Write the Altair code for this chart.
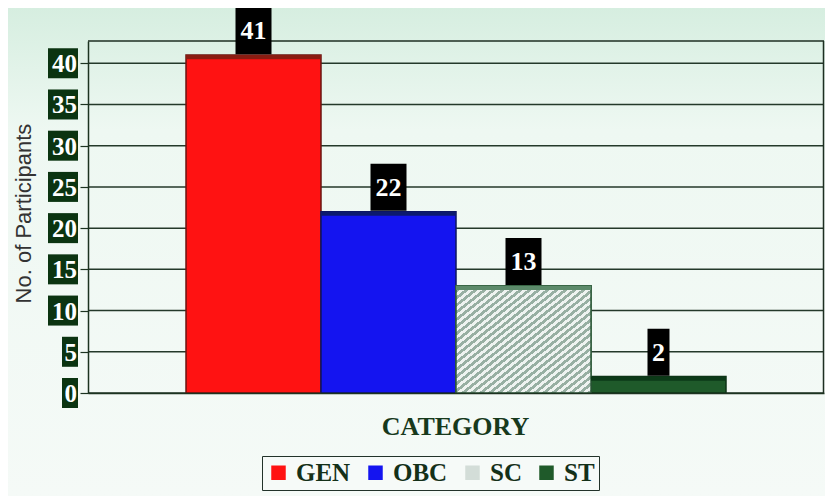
import altair as alt
import pandas as pd

# ---- data ----
categories = ["GEN", "OBC", "SC", "ST"]
counts = [41, 22, 13, 2]
y_ticks = [0, 5, 10, 15, 20, 25, 30, 35, 40]

fill_colors = ["#ff1212", "#1414f0", "#d3ddd8", "#1f5a2a"]
edge_colors = ["#6a1410", "#0c1460", "#2e5a3a", "#0e3316"]
top_colors = ["#8a1c12", "#0c1a6e", "#5c8a6a", "#0c3a18"]

SERIF = "Liberation Serif"
DARK = "#1c3320"
YMAX = 42.7
W, H = 736, 352

df = pd.DataFrame({
    "category": categories,
    "count": counts,
    "edge": edge_colors,
    "topc": top_colors,
})
df["top_lo"] = df["count"] - 0.5
df["box_lo"] = df["count"] + 0.1
df["box_hi"] = df["count"] + 5.8
df["txt_y"] = df["count"] + 2.9
df["bw"] = df["count"].astype(str).str.len() * 14 + 8

ticks = pd.DataFrame({"tick": y_ticks})
ticks["lo"] = ticks["tick"] - 1.82
ticks["hi"] = ticks["tick"] + 1.82
ticks["digits"] = ticks["tick"].astype(str).str.len()

yscale = alt.Scale(domain=[0, YMAX], nice=False, zero=False)
xscale = alt.Scale(domain=categories, paddingInner=0, paddingOuter=0.726)

xaxis = alt.Axis(labels=False, ticks=False, domain=True, domainColor=DARK,
                 domainWidth=1.5, grid=False, zindex=1,
                 title="CATEGORY", titleFont=SERIF, titleFontSize=26,
                 titleFontWeight="bold", titleColor="#17391c",
                 titleX=367, titleY=33, titleBaseline="middle")
yaxis = alt.Axis(labels=False, ticks=True, tickSize=8, tickColor=DARK,
                 tickWidth=1.2, domain=True, domainColor=DARK,
                 domainWidth=1.5, grid=False, values=y_ticks, zindex=1,
                 title="No. of Participants", titleFont="Liberation Sans",
                 titleFontSize=22, titleFontWeight="normal",
                 titleColor="#333333", titleAngle=270,
                 titleX=-65, titleY=172, titleAlign="center",
                 titleBaseline="middle")

X = alt.X("category:N", scale=xscale, sort=categories, axis=xaxis)

base = alt.Chart(df)

# background gradient
bg = alt.Chart(pd.DataFrame({"a": [0]})).mark_rect(
    fill=alt.Gradient(
        gradient="linear", x1=0, y1=0, x2=0, y2=1,
        stops=[alt.GradientStop(offset=0, color="#d6eee0"),
               alt.GradientStop(offset=0.25, color="#eef8f2"),
               alt.GradientStop(offset=1, color="#f5faf7")]),
).encode(x=alt.value(-80), x2=alt.value(W + 1), y=alt.value(-33), y2=alt.value(H + 103))

grid = alt.Chart(ticks).mark_rule(color="#24392a", strokeWidth=1.5).encode(
    y=alt.Y("tick:Q", scale=yscale, axis=yaxis))

frame_top = alt.Chart(pd.DataFrame({"a": [0]})).mark_rule(
    color="#1e2e22", strokeWidth=1.5).encode(
    x=alt.value(0), x2=alt.value(W), y=alt.value(0))
frame_right = alt.Chart(pd.DataFrame({"a": [0]})).mark_rule(
    color="#1e2e22", strokeWidth=1.5).encode(
    x=alt.value(W - 0.5), y=alt.value(0), y2=alt.value(H))

bars = base.mark_bar(strokeWidth=1.5).encode(
    x=X,
    y=alt.Y("count:Q", scale=yscale, axis=yaxis),
    color=alt.Color("category:N",
                    scale=alt.Scale(domain=categories, range=fill_colors),
                    legend=alt.Legend(orient="none", legendX=174, legendY=415,
                                      direction="horizontal", title=None,
                                      symbolType="square", symbolSize=210,
                                      symbolStrokeWidth=0, symbolOpacity=1,
                                      labelFont=SERIF, labelFontSize=25,
                                      labelFontWeight="bold", labelColor="#143018",
                                      columnPadding=12, labelOffset=5,
                                      padding=4, strokeColor="#22322a",
                                      fillColor="#f6faf8")),
    stroke=alt.Stroke("edge:N", scale=None),
)

# diagonal hatching on SC bar
stops = []
n = 30
for i in range(n):
    a = i / n
    b = (i + 0.5) / n
    stops += [alt.GradientStop(offset=a, color="#eef3f0"),
              alt.GradientStop(offset=b, color="#eef3f0"),
              alt.GradientStop(offset=b, color="#97afa2"),
              alt.GradientStop(offset=(i + 1) / n, color="#97afa2")]
hatch = base.transform_filter(alt.datum.category == "SC").mark_bar(
    fill=alt.Gradient(gradient="linear", x1=0, y1=0, x2=1, y2=1, stops=stops),
    stroke="#2e5a3a", strokeWidth=1.5,
).encode(x=X, y=alt.Y("count:Q", scale=yscale, axis=yaxis))

top = base.mark_bar(strokeWidth=0).encode(
    x=X,
    y=alt.Y("count:Q", scale=yscale, axis=yaxis),
    y2="top_lo:Q",
    fill=alt.Fill("topc:N", scale=None),
)

boxes = base.mark_bar(color="#000000").encode(
    x=X,
    y=alt.Y("box_lo:Q", scale=yscale, axis=yaxis),
    y2="box_hi:Q",
    size=alt.Size("bw:Q", scale=None),
)

labels = base.mark_text(font=SERIF, fontSize=26, fontWeight="bold",
                        color="white", baseline="middle").encode(
    x=X,
    y=alt.Y("txt_y:Q", scale=yscale, axis=yaxis),
    text="count:Q",
)

tick_base = alt.Chart(ticks)
tbox2 = tick_base.transform_filter(alt.datum.digits == 2).mark_rect(color="#0b3411").encode(
    x=alt.value(-40), x2=alt.value(-10),
    y=alt.Y("lo:Q", scale=yscale, axis=yaxis), y2="hi:Q")
tbox1 = tick_base.transform_filter(alt.datum.digits == 1).mark_rect(color="#0b3411").encode(
    x=alt.value(-26), x2=alt.value(-10),
    y=alt.Y("lo:Q", scale=yscale, axis=yaxis), y2="hi:Q")
ttext = tick_base.mark_text(font=SERIF, fontSize=25, fontWeight="bold",
                            color="white", align="right", baseline="middle",
                            dy=1).encode(
    x=alt.value(-11),
    y=alt.Y("tick:Q", scale=yscale, axis=yaxis),
    text="tick:Q")

chart = alt.layer(bg, grid, frame_top, frame_right, bars, hatch, top, boxes,
                  labels, tbox2, tbox1, ttext).properties(
    width=W, height=H,
    autosize=alt.AutoSizeParams(type="none"),
    padding={"left": 80, "top": 33, "right": 1, "bottom": 103},
    background="#f3f9f5",
).configure_view(stroke=None)

chart.save("out.html", embed_options={"renderer": "svg", "actions": False})
